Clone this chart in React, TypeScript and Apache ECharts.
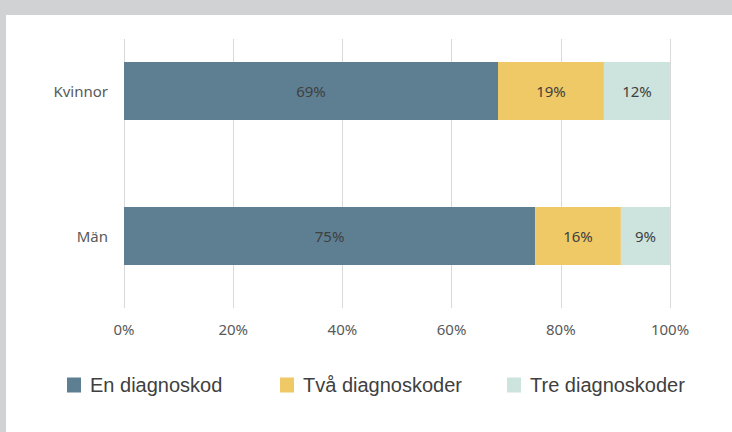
import React, { useEffect, useRef } from "react";
import * as echarts from "echarts";

const categories = ["Kvinnor", "Män"];
const seriesNames = ["En diagnoskod", "Två diagnoskoder", "Tre diagnoskoder"];
const enDiagnoskod = [68.5, 75.3];
const tvaDiagnoskoder = [19.4, 15.7];
const treDiagnoskoder = [12.1, 9.0];
const xTicks = [0, 20, 40, 60, 80, 100];

const colors = ["#5e7f92", "#efc965", "#cde3dd"];

export default function App() {
  const ref = useRef<HTMLDivElement>(null);
  useEffect(() => {
    document.body.style.margin = "0";
    const chart = echarts.init(ref.current!, null, { renderer: "svg" });
    const values = [enDiagnoskod, tvaDiagnoskoder, treDiagnoskoder];
    const legendLefts = [62, 275, 502];
    chart.setOption({
      animation: false,
      backgroundColor: "#ffffff",
      grid: [
        { left: 124, right: 62, top: 18.5, height: 290 },
        { left: 124, right: 62, top: 39, height: 269 },
      ],
      xAxis: [
        { type: "value", gridIndex: 0, min: 0, max: 100, show: false },
        {
          type: "value",
          gridIndex: 1,
          min: xTicks[0],
          max: xTicks[xTicks.length - 1],
          interval: 20,
          axisLine: { show: false },
          axisTick: { show: false },
          splitLine: { show: true, lineStyle: { color: "#d9d9d9", width: 1 } },
          axisLabel: {
            formatter: (v: number) => v + "%",
            color: "#595959",
            fontFamily: "Noto Sans",
            fontSize: 15,
            margin: 13,
          },
        },
      ],
      yAxis: [
        {
          type: "category",
          gridIndex: 0,
          data: categories,
          inverse: true,
          axisLine: { show: false },
          axisTick: { show: false },
          axisLabel: {
            color: "#595959",
            fontFamily: "Noto Sans",
            fontSize: 15,
            margin: 16,
          },
        },
        { type: "value", gridIndex: 1, show: false },
      ],
      legend: seriesNames.map((n, i) => ({
        data: [n],
        left: legendLefts[i],
        top: 370,
        icon: "rect",
        itemWidth: 14,
        itemHeight: 15,
        selectedMode: false,
        textStyle: {
          fontFamily: "Liberation Sans",
          fontSize: 20,
          color: "#404040",
          padding: [0, 0, 0, 4],
        },
      })),
      series: seriesNames.map((n, i) => ({
        name: n,
        type: "bar",
        stack: "total",
        xAxisIndex: 0,
        yAxisIndex: 0,
        barWidth: 58,
        data: values[i],
        itemStyle: { color: colors[i] },
        label: {
          show: true,
          position: "inside",
          formatter: (p: any) => Math.round(p.value) + "%",
          color: "#404040",
          fontFamily: "Noto Sans",
          fontSize: 15,
        },
      })),
      graphic: [
        { type: "rect", shape: { x: 0, y: 0, width: 732, height: 15 }, style: { fill: "#d1d2d4" }, z: 100 },
        { type: "rect", shape: { x: 0, y: 0, width: 6, height: 432 }, style: { fill: "#d1d2d4" }, z: 100 },
      ],
    });
    return () => chart.dispose();
  }, []);
  return <div ref={ref} style={{ width: 732, height: 432 }} />;
}
